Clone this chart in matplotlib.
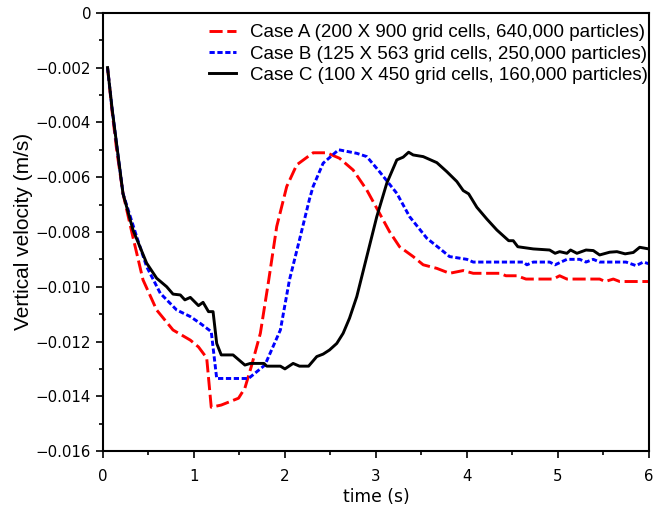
import numpy as np
import matplotlib.pyplot as plt
from matplotlib.ticker import MultipleLocator, FuncFormatter

# Case A (red dashed)
t_a = [0.05, 0.1, 0.15, 0.22, 0.33, 0.44, 0.59, 0.77, 0.96, 1.05, 1.14, 1.19, 1.30, 1.49,
       1.56, 1.63, 1.73, 1.82, 1.91, 2.02, 2.13, 2.31, 2.46, 2.60, 2.75, 2.90, 3.04, 3.15,
       3.26, 3.41, 3.52, 3.67, 3.81, 3.96, 4.07, 4.36, 4.43, 4.55, 4.65, 4.95, 5.02, 5.10,
       5.46, 5.52, 5.61, 5.68, 6.0]
v_a = [-0.0020, -0.0036, -0.0050, -0.0066, -0.0082, -0.00975, -0.01085, -0.01158, -0.01195,
       -0.0122, -0.0126, -0.0144, -0.01432, -0.01407,
       -0.0137, -0.01292, -0.0117, -0.0098, -0.0078, -0.00634, -0.00555, -0.00511, -0.00511,
       -0.00531, -0.00574, -0.00647, -0.00732, -0.00799,
       -0.00854, -0.0089, -0.0092, -0.00933, -0.00951, -0.00941, -0.00951, -0.00951, -0.0096,
       -0.0096, -0.00972, -0.00972, -0.0096, -0.00972,
       -0.00972, -0.00981, -0.00972, -0.00981, -0.00981]

# Case B (blue dotted)
t_b = [0.05, 0.1, 0.15, 0.22, 0.37, 0.48, 0.63, 0.81, 0.96, 1.07, 1.19, 1.25, 1.60, 1.78,
       1.95, 2.05, 2.16, 2.27, 2.31, 2.42, 2.59, 2.79, 2.90, 3.04, 3.23, 3.37, 3.56, 3.70,
       3.81, 4.0, 4.07, 4.62, 4.66, 4.73, 4.91, 4.97, 5.10, 5.24, 5.31, 5.39, 5.46, 5.75,
       5.86, 5.94, 6.0]
v_b = [-0.0020, -0.0035, -0.0048, -0.0066, -0.00817, -0.00927, -0.01024, -0.01085, -0.01109,
       -0.01134, -0.01164, -0.01335, -0.01335, -0.01286,
       -0.01158, -0.00975, -0.00829, -0.00680, -0.00634, -0.00549, -0.00500, -0.00513, -0.00525,
       -0.00580, -0.00659, -0.00744, -0.00823, -0.0086,
       -0.0089, -0.0090, -0.0091, -0.0091, -0.0092, -0.0091, -0.0091, -0.0092, -0.0090,
       -0.0090, -0.0091, -0.0090, -0.0091, -0.0091,
       -0.00923, -0.0091, -0.00916]

# Case C (black solid)
t_c = [0.05, 0.1, 0.15, 0.22, 0.33, 0.48, 0.59, 0.70, 0.77, 0.85, 0.90, 0.96, 1.05, 1.10,
       1.16, 1.21, 1.25, 1.30, 1.43, 1.56, 1.62, 1.77, 1.80, 1.95, 2.00, 2.09, 2.16, 2.26,
       2.35, 2.42, 2.49, 2.57, 2.64, 2.71, 2.79, 2.90, 3.01, 3.12, 3.23, 3.30, 3.36, 3.41,
       3.52, 3.67, 3.78, 3.89, 3.96, 4.02, 4.11, 4.22, 4.33, 4.46, 4.51, 4.56, 4.73, 4.91,
       4.97, 5.02, 5.10, 5.14, 5.21, 5.31, 5.39, 5.46, 5.57, 5.65, 5.74, 5.83, 5.90, 6.0]
v_c = [-0.0020, -0.0035, -0.0048, -0.0066, -0.00793, -0.00914, -0.00969, -0.0100, -0.01027,
       -0.0103, -0.01048, -0.01039, -0.01069, -0.01057,
       -0.01091, -0.01091, -0.01207, -0.01249, -0.01249, -0.01286, -0.0128, -0.0128, -0.0129,
       -0.0129, -0.0130, -0.0128, -0.0129, -0.0129,
       -0.01255, -0.01246, -0.01231, -0.01207, -0.0117, -0.01115, -0.01036, -0.0089, -0.00744,
       -0.00622, -0.00537, -0.00527, -0.00509, -0.00519,
       -0.00525, -0.00547, -0.0058, -0.00616, -0.00649, -0.00661, -0.0071, -0.00753, -0.00793,
       -0.00832, -0.00832, -0.00854, -0.00862, -0.00866,
       -0.00878, -0.00872, -0.00878, -0.00866, -0.00878, -0.00866, -0.00868, -0.00884, -0.00874,
       -0.00872, -0.0088, -0.00875, -0.00856, -0.00862]

labels = ['Case A (200 X 900 grid cells, 640,000 particles)',
          'Case B (125 X 563 grid cells, 250,000 particles)',
          'Case C (100 X 450 grid cells, 160,000 particles)']

fig = plt.figure(figsize=(6.56, 5.12), dpi=100)
ax = fig.add_axes([0.157, 0.119, 0.832, 0.856])

ax.plot(t_a, v_a, color='red', lw=2.1, dashes=(4.5, 1.6), label=labels[0])
ax.plot(t_b, v_b, color='blue', lw=2.1, dashes=(1.8, 0.9), label=labels[1])
ax.plot(t_c, v_c, color='black', lw=2.1, label=labels[2])

ax.set_xlim(0, 6)
ax.set_ylim(-0.016, 0)
ax.xaxis.set_major_locator(MultipleLocator(1))
ax.xaxis.set_minor_locator(MultipleLocator(0.5))
ax.yaxis.set_major_locator(MultipleLocator(0.002))
ax.yaxis.set_minor_locator(MultipleLocator(0.001))
ax.yaxis.set_major_formatter(FuncFormatter(
    lambda v, p: '0' if abs(v) < 1e-12 else f'{v:.3f}'.replace('-', '\u2212')))

ax.tick_params(which='both', direction='out', top=False, right=False, labelsize=10.8, width=1.2)
ax.tick_params(which='major', length=5)
ax.tick_params(which='minor', length=3)
ax.tick_params(axis='x', which='major', pad=8)
for s in ax.spines.values():
    s.set_linewidth(1.5)

ax.set_xlabel('time (s)', fontsize=12.3, labelpad=3)
ax.set_ylabel('Vertical velocity (m/s)', fontsize=15, family='Liberation Sans', labelpad=2)

leg = ax.legend(loc='upper right', bbox_to_anchor=(0.999, 0.974), frameon=False,
                handlelength=1.45, handletextpad=0.75, borderpad=0, borderaxespad=0,
                labelspacing=0.22, prop={'family': 'Liberation Sans', 'size': 13.5})

plt.savefig('out.png', dpi=100)
